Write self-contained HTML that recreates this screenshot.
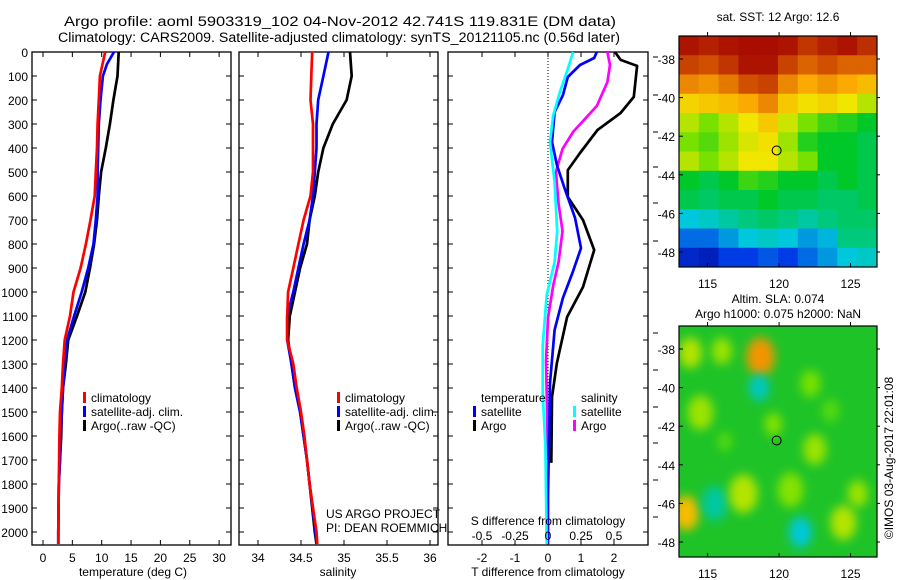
<!DOCTYPE html>
<html><head><meta charset="utf-8"><style>
body{margin:0;background:#fff}
svg{display:block;font-family:"Liberation Sans",sans-serif}
</style></head><body>
<svg id="fig" width="900" height="580" viewBox="0 0 900 580">
<text x="340" y="26" text-anchor="middle" font-size="13.5" textLength="552" lengthAdjust="spacingAndGlyphs">Argo profile: aoml 5903319_102 04-Nov-2012 42.741S 119.831E (DM data)</text>
<text x="339" y="42" text-anchor="middle" font-size="13.5" textLength="562" lengthAdjust="spacingAndGlyphs">Climatology: CARS2009. Satellite-adjusted climatology: synTS_20121105.nc (0.56d later)</text>
<g id="g"></g>
</svg>
<script>
// ---------- data ----------
const depthTicks=[0,100,200,300,400,500,600,700,800,900,1000,1100,1200,1300,1400,1500,1600,1700,1800,1900,2000];
const tempTicks=[0,5,10,15,20,25,30];
const salTicks=[34,34.5,35,35.5,36];
const dTTicks=[-2,-1,0,1,2];
const dSTicks=[-0.5,-0.25,0,0.25,0.5];
const dSTickLabels=["-0.5","-0.25","0","0.25","0.5"];

const tDepthArgo=[0,100,200,300,400,500,600,700,800,900,1000,1100,1200,1300,1400,1500,1600,1700,1800,2000,2050];
const tArgo=[12.9,12.7,12.0,11.4,10.7,9.9,9.5,9.2,8.7,8.0,7.2,5.8,4.3,3.9,3.4,3.2,3.1,2.9,2.7,2.6,2.6];
const tDepthSat=[0,50,100,200,300,400,500,600,700,800,900,1000,1100,1200,1300,1400,1500,1600,1700,1800,2000,2050];
const tSat=[12.1,10.9,10.2,9.8,9.5,9.4,9.3,9.3,9.0,8.6,7.7,6.6,5.3,4.1,3.7,3.4,3.2,3.0,2.9,2.7,2.6,2.6];
const tDepthClim=[0,100,200,300,400,500,600,700,800,900,1000,1100,1200,1300,1400,1500,1600,1800,2000,2050];
const tClim=[10.6,9.7,9.5,9.3,9.2,9.0,8.8,8.1,7.3,6.4,5.2,4.6,3.7,3.4,3.2,2.9,2.8,2.7,2.6,2.6];

const sDepth=[0,100,200,300,400,500,600,700,800,900,1000,1100,1200,1300,1400,1500,1600,1700,1800,2000,2050];
const sArgo=[35.07,35.09,35.03,34.87,34.76,34.70,34.66,34.60,34.57,34.49,34.43,34.37,34.35,34.39,34.43,34.49,34.53,34.57,34.60,34.66,34.68];
const sSat=[34.82,34.76,34.70,34.68,34.68,34.66,34.64,34.60,34.53,34.47,34.41,34.34,34.34,34.39,34.43,34.49,34.53,34.57,34.60,34.67,34.68];
const sClim=[34.63,34.62,34.61,34.64,34.64,34.64,34.61,34.53,34.47,34.41,34.35,34.34,34.34,34.41,34.45,34.50,34.54,34.57,34.60,34.68,34.69];

const dDepthTA=[0,33,58,187,254,325,421,492,604,700,825,979,1104,1296,1437,1712];
const dTArgo=[2.03,2.2,2.7,2.6,2.2,1.5,0.97,0.6,0.6,1.06,1.4,1.06,0.58,0.27,0.12,0.1];
const dDepthTS=[0,25,54,104,180,250,375,471,567,692,817,913,1025,1158,1380,1850,2050];
const dTSat=[1.48,1.4,0.97,0.6,0.45,0.2,0.12,0.27,0.5,0.82,1.0,0.76,0.45,0.2,0.06,0.0,0.0];
const dDepthSA=[0,54,125,225,333,404,500,633,746,875,971,1108,1288,1425,1700];
const dSArgo=[0.45,0.47,0.45,0.37,0.19,0.11,0.06,0.08,0.11,0.08,0.04,0.0,-0.015,-0.01,0.0];
const dDepthSS=[0,71,167,263,375,542,746,875,1013,1221,1425,1640,2050];
const dSSat=[0.19,0.15,0.09,0.04,0.015,0.05,0.07,0.05,-0.01,-0.04,-0.04,-0.02,-0.01];

const mapLonTicks=[115,120,125];
const mapLatTicks=[-38,-40,-42,-44,-46,-48];
const sstGrid=[
[.97,.95,.97,.98,.98,.97,.92,.95,.97,.93],
[.9,.88,.92,.97,.97,.9,.85,.88,.85,.85],
[.8,.78,.82,.88,.9,.8,.75,.78,.75,.72],
[.68,.7,.72,.75,.8,.7,.66,.68,.65,.6],
[.6,.55,.6,.65,.7,.62,.55,.5,.48,.45],
[.55,.52,.58,.63,.66,.58,.48,.45,.45,.42],
[.6,.55,.6,.65,.65,.6,.55,.45,.45,.42],
[.45,.42,.45,.5,.48,.45,.45,.42,.45,.42],
[.42,.4,.42,.42,.45,.42,.42,.4,.4,.42],
[.3,.32,.35,.38,.4,.38,.35,.38,.4,.4],
[.2,.2,.25,.3,.32,.3,.25,.28,.38,.38],
[.1,.08,.15,.15,.18,.15,.2,.25,.3,.32]];
const blobLon=[118.7,118.6,113.5,115.5,121.5,117.5,114.5,122.5,122.2,124.5,116,125.5,113.8,120.8,119.6,116.2,123.6];
const blobLat=[-38.4,-40.0,-46.5,-46.0,-47.5,-45.5,-41.3,-43.2,-39.8,-47,-38.1,-45.5,-38.2,-45.3,-41.9,-42.8,-41.2];
const blobVal=[.78,.32,.72,.35,.3,.6,.58,.58,.55,.6,.58,.58,.6,.56,.56,.52,.52];
const blobR=[1.0,0.7,0.9,0.9,0.8,1.0,0.9,0.8,0.7,0.9,0.7,0.7,0.8,0.9,0.6,0.5,0.6];
const argoLon=119.83, argoLat=-42.74;

// ---------- helpers ----------
const NS="http://www.w3.org/2000/svg";
const G=document.getElementById('g');
function el(tag,attrs,parent){const e=document.createElementNS(NS,tag);for(const k in attrs)e.setAttribute(k,attrs[k]);(parent||G).appendChild(e);return e;}
function txt(x,y,s,size,anchor,parent){const t=el('text',{x:x,y:y,'font-size':size||12,'text-anchor':anchor||'start'},parent);t.textContent=s;return t;}
const Y=d=>52+0.24*d;
const top0=52,bot=545;

function panel(name,x0,x1,xf,ticks,labels){
  const g=el('g',{});
  
  
  const r=el('rect',{x:x0,y:top0,width:x1-x0,height:bot-top0,fill:'none',stroke:'#000','stroke-width':1.3},g);
  
  
  depthTicks.forEach(d=>{el('line',{x1:x0,x2:x0+5,y1:Y(d),y2:Y(d),stroke:'#000'},g);el('line',{x1:x1-5,x2:x1,y1:Y(d),y2:Y(d),stroke:'#000'},g);});
  ticks.forEach((v,i)=>{const x=xf(v);el('line',{x1:x,x2:x,y1:bot,y2:bot-5,stroke:'#000'},g);el('line',{x1:x,x2:x,y1:top0,y2:top0+5,stroke:'#000'},g);
    if(labels){const t=txt(x,562,labels[i],12,'middle',g);}});
  return g;
}
function series(g,name,xs,ds,xf,color,w){
  let p='';ds.forEach((d,i)=>{p+=(i?'L':'M')+xf(xs[i]).toFixed(1)+','+Y(d).toFixed(1);});
  const e=el('path',{d:p,fill:'none',stroke:color,'stroke-width':w||2.7,'stroke-linejoin':'round'},g);
  
  
}
function legendEntry(g,name,x,y,color,label){
  const gg=el('g',{},g);
  
  
  el('rect',{x:x,y:y-10,width:3,height:11,fill:color},gg);
  txt(x+8,y,label,12,'start',gg);
}

// depth labels
depthTicks.forEach(d=>{const t=txt(28,Y(d)+5,String(d),12,'end');});

// panel 1 temperature
const xT=v=>43+5.87*v;
const p1=panel('temperature-panel',32,231,xT,tempTicks,tempTicks.map(String));
series(p1,'temp-argo-line',tArgo,tDepthArgo,xT,'#000');
series(p1,'temp-satellite-line',tSat,tDepthSat,xT,'#0000ff');
series(p1,'temp-climatology-line',tClim,tDepthClim,xT,'#ff0000');
legendEntry(p1,'legend-climatology',83,402,'#f00','climatology');
legendEntry(p1,'legend-satellite-adj',83,416,'#00f','satellite-adj. clim.');
legendEntry(p1,'legend-argo',83,430,'#000','Argo(..raw -QC)');
let t=txt(133,576,'temperature (deg C)',12,'middle');

// panel 2 salinity
const xS=v=>258+86*(v-34);
const p2=panel('salinity-panel',239,438,xS,salTicks,salTicks.map(String));
series(p2,'sal-argo-line',sArgo,sDepth,xS,'#000');
series(p2,'sal-satellite-line',sSat,sDepth,xS,'#0000ff');
series(p2,'sal-climatology-line',sClim,sDepth,xS,'#ff0000');
legendEntry(p2,'legend-climatology-sal',337,402,'#f00','climatology');
legendEntry(p2,'legend-satellite-adj-sal',337,416,'#00f','satellite-adj. clim.');
legendEntry(p2,'legend-argo-sal',337,430,'#000','Argo(..raw -QC)');
t=txt(338,576,'salinity',12,'middle');
t=txt(326,518,'US ARGO PROJECT',12);
t=txt(326,532,'PI: DEAN ROEMMICH',12);

// panel 3 differences
const xDT=v=>548+33*v, xDS=v=>548+132*v;
const p3=panel('difference-panel',448,648,xDT,dTTicks,dTTicks.map(String));
el('line',{x1:548,x2:548,y1:top0,y2:bot,stroke:'#000','stroke-dasharray':'1,2','stroke-width':1},p3);
series(p3,'dT-argo-line',dTArgo,dDepthTA,xDT,'#000');
series(p3,'dS-argo-line',dSArgo,dDepthSA,xDS,'#ff00ff');
series(p3,'dT-satellite-line',dTSat,dDepthTS,xDT,'#0000ff');
series(p3,'dS-satellite-line',dSSat,dDepthSS,xDS,'#00ffff');
dSTicks.forEach((v,i)=>{const t=txt(xDS(v),540,dSTickLabels[i],12,'middle',p3);});
t=txt(548,525,'S difference from climatology',12,'middle');
t=txt(548,576,'T difference from climatology',12,'middle');
t=txt(481,402,'temperature',12);
t=txt(581,402,'salinity',12);
legendEntry(p3,'legend-t-satellite',473,416,'#00f','satellite');
legendEntry(p3,'legend-t-argo',473,430,'#000','Argo');
legendEntry(p3,'legend-s-satellite',573,416,'#0ff','satellite');
legendEntry(p3,'legend-s-argo',573,430,'#f0f','Argo');
[57,95,132,167,203,241,333,370,407,443,480,517].forEach(y=>el('line',{x1:653,x2:658,y1:y,y2:y,stroke:'#000'}));

// ---------- maps ----------
const stops=[[0,0,0,140],[.15,0,60,230],[.3,0,200,220],[.45,0,200,40],[.55,120,225,0],[.65,240,230,0],[.75,250,170,0],[.85,220,100,0],[1,160,0,0]];
function cmap(v){for(let i=1;i<stops.length;i++){if(v<=stops[i][0]){const a=stops[i-1],b=stops[i],f=(v-a[0])/(b[0]-a[0]);return 'rgb('+[1,2,3].map(k=>Math.round(a[k]+f*(b[k]-a[k]))).join(',')+')';}}return 'rgb(160,0,0)';}
const mx0=679,mx1=877,lon0=113,lon1=126.85;
const lonX=l=>mx0+(l-lon0)*(mx1-mx0)/(lon1-lon0);
function mapFrame(name,y0,y1){
  const g=el('g',{});
  
  
  const latY=l=>y0+23+(-38-l)*19.3;
  return {g,latY,finish:()=>{
    el('rect',{x:mx0,y:y0,width:mx1-mx0,height:y1-y0,fill:'none',stroke:'#000','stroke-width':1.2},g);
    mapLonTicks.forEach(l=>{const x=lonX(l);el('line',{x1:x,x2:x,y1:y1,y2:y1-4,stroke:'#000'},g);el('line',{x1:x,x2:x,y1:y0,y2:y0-4,stroke:'#000'},g);const t=txt(x,y1+21,String(l),12,'middle',g);});
    mapLatTicks.forEach(l=>{const y=latY(l);el('line',{x1:mx0,x2:mx0+4,y1:y,y2:y,stroke:'#000'},g);el('line',{x1:mx1,x2:mx1+3,y1:y,y2:y,stroke:'#000'},g);const t=txt(mx0-4,y+5,String(l),12,'end',g);});
    const c=el('circle',{cx:lonX(argoLon),cy:latY(argoLat),r:4.5,fill:'none',stroke:'#000','stroke-width':1},g);
    
    
  }};
}
// SST map
const m1=mapFrame('sst-map',36,267);
const rows=sstGrid.length,cols=sstGrid[0].length,cw=(mx1-mx0)/cols,ch=(267-36)/rows;
sstGrid.forEach((row,r)=>row.forEach((v,c)=>{const e=el('rect',{x:mx0+c*cw,y:36+r*ch,width:cw+0.5,height:ch+0.5,fill:cmap(v)},m1.g);}));
m1.finish();
t=txt(778,21,'sat. SST: 12 Argo: 12.6',12,'middle');
// SLA map
const defs=el('defs',{});
const f=el('filter',{id:'blur',x:'-50%',y:'-50%',width:'200%',height:'200%'},defs);
el('feGaussianBlur',{stdDeviation:5},f);
el('clipPath',{id:'clip2'},defs);
el('rect',{x:mx0,y:326,width:mx1-mx0,height:231},document.getElementById('clip2'));
const m2=mapFrame('sla-map',326,557);
const bg=el('rect',{x:mx0,y:326,width:mx1-mx0,height:231,fill:'rgb(30,195,40)'},m2.g);


const bl=el('g',{'clip-path':'url(#clip2)'},m2.g);
blobLon.forEach((lo,i)=>{const e=el('ellipse',{cx:lonX(lo),cy:m2.latY(blobLat[i]),rx:blobR[i]*14.3,ry:blobR[i]*19.3,fill:cmap(blobVal[i]),filter:'url(#blur)'},bl);});
m2.finish();
t=txt(778,303,'Altim. SLA: 0.074',12,'middle');
t=txt(778,318,'Argo h1000: 0.075 h2000: NaN',12,'middle');
t=txt(0,0,'©IMOS 03-Aug-2017 22:01:08',12,'middle');t.setAttribute('transform','translate(893,458) rotate(-90)');
</script>
</body></html>
